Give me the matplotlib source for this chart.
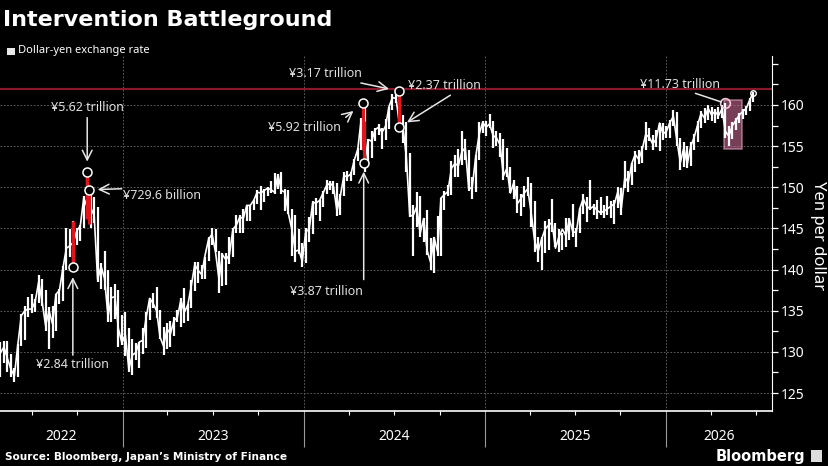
import numpy as np
import pandas as pd
import matplotlib
matplotlib.use("Agg")
import matplotlib.pyplot as plt
import matplotlib.dates as mdates
from matplotlib.patches import Rectangle
from matplotlib.ticker import MultipleLocator, FixedLocator

plt.rcParams["font.family"] = ["Noto Sans", "DejaVu Sans"]

# weekly dollar-yen bars (week ending Friday)
high_2022 = [131.2, 131.3, 131.3, 129.8, 128.0, 130.9, 134.6, 135.6, 136.7, 137.0, 136.4, 139.4,
             138.9, 137.5, 135.5, 135.6, 137.0, 137.7, 140.4, 145.0, 144.9, 145.9, 145.0, 145.4,
             148.9, 151.9, 149.7, 148.8, 147.6, 140.8, 142.3, 139.9, 137.9, 138.2, 137.5, 134.5]
low_2022 = [127.0, 128.6, 127.5, 127.0, 126.4, 126.9, 130.7, 131.5, 134.3, 134.7, 134.8, 135.9,
            135.6, 132.5, 130.4, 131.7, 132.6, 135.8, 136.2, 140.0, 141.5, 140.3, 143.0, 143.5,
            145.0, 146.2, 145.1, 145.7, 138.5, 137.7, 137.5, 133.6, 133.6, 134.0, 130.6, 130.8]
close_2022 = [129.9, 130.6, 129.2, 127.9, 127.1, 130.9, 134.4, 135.0, 135.2, 135.2, 136.1, 138.5,
              136.1, 133.2, 135.0, 133.4, 137.0, 137.5, 140.2, 142.6, 142.9, 143.3, 144.7, 145.3,
              148.7, 147.6, 147.5, 146.6, 138.8, 140.4, 138.9, 134.3, 136.6, 136.7, 132.8, 131.1]

high_2023 = [134.8, 132.9, 131.6, 131.1, 131.2, 132.9, 134.8, 136.5, 137.1, 137.9, 135.1, 133.0, 133.5,
             133.8, 134.2, 135.1, 136.6, 137.8, 135.8, 138.7, 140.9, 140.9, 140.5, 141.5, 143.9, 145.1,
             144.9, 142.3, 142.0, 142.0, 143.9, 145.0, 146.6, 146.6, 147.4, 147.9, 147.9, 148.5, 149.7,
             150.2, 149.8, 150.0, 150.8, 151.7, 151.6, 151.9, 149.8, 149.7, 147.4, 146.6, 144.9, 143.2]
low_2023 = [129.5, 127.5, 127.2, 129.0, 128.1, 129.8, 130.5, 133.9, 135.3, 134.1, 131.6, 129.6, 130.4,
            130.6, 131.9, 133.6, 133.0, 133.5, 133.7, 135.3, 137.4, 138.4, 138.8, 138.9, 141.1, 143.0,
            142.1, 137.2, 138.0, 138.1, 140.7, 141.5, 144.5, 144.5, 144.5, 145.9, 145.9, 147.3, 148.0,
            147.3, 148.2, 149.0, 149.3, 149.2, 149.8, 149.2, 147.1, 146.7, 141.6, 140.9, 141.9, 140.3]
close_2023 = [132.1, 127.9, 129.6, 129.9, 131.2, 131.4, 134.2, 136.5, 135.9, 135.0, 131.8, 130.7, 132.8,
              132.2, 133.8, 134.2, 136.3, 134.8, 135.7, 138.0, 140.6, 139.9, 139.4, 141.8, 143.7, 144.3,
              142.1, 138.8, 141.8, 141.2, 141.8, 144.9, 145.4, 146.4, 146.2, 147.8, 147.8, 148.4, 149.4,
              149.3, 149.6, 149.9, 149.7, 149.4, 151.5, 149.6, 149.4, 146.8, 144.9, 142.2, 142.4, 141.0]

high_2024 = [145.0, 146.4, 148.3, 148.7, 148.5, 149.6, 150.9, 150.8, 150.8, 150.5, 149.2, 151.9, 152.0,
             151.9, 153.4, 154.8, 158.4, 160.2, 155.9, 156.8, 157.2, 157.7, 157.2, 158.3, 159.8, 161.3,
             161.95, 161.7, 158.8, 157.9, 154.2, 147.9, 149.4, 149.0, 146.3, 147.2, 143.8, 143.9, 146.5,
             148.7, 149.6, 150.3, 153.2, 153.9, 154.7, 156.8, 155.9, 154.5, 151.2, 153.9, 157.9, 158.1]
low_2024 = [140.8, 143.4, 144.3, 146.6, 145.9, 147.6, 149.2, 149.7, 149.2, 146.5, 146.6, 148.9, 150.8,
            150.8, 151.5, 153.2, 154.5, 151.9, 152.8, 153.6, 155.6, 156.4, 154.6, 155.7, 157.1, 159.4,
            160.2, 157.4, 155.4, 151.9, 146.4, 141.7, 145.2, 144.0, 143.4, 141.8, 139.9, 139.6, 141.6,
            141.7, 147.3, 148.9, 149.1, 151.3, 151.3, 152.7, 153.3, 149.5, 148.6, 149.4, 153.3, 156.6]
close_2024 = [144.6, 144.9, 148.1, 148.1, 148.4, 149.3, 150.2, 150.5, 150.1, 147.1, 149.0, 151.4, 151.3,
              151.6, 153.3, 154.6, 158.3, 153.0, 155.8, 155.6, 157.0, 157.3, 156.7, 157.4, 159.8, 160.9,
              160.8, 157.8, 157.4, 153.7, 146.5, 146.6, 147.6, 144.4, 146.2, 142.3, 140.9, 143.9, 142.2,
              148.7, 149.1, 149.5, 152.3, 152.9, 152.6, 154.3, 154.8, 149.8, 150.0, 153.7, 156.4, 157.9]

high_2025 = [158.1, 158.9, 158.1, 156.8, 156.6, 155.9, 154.8, 152.5, 150.9, 150.2, 149.2, 150.2, 151.2,
             150.5, 148.3, 144.0, 143.9, 145.9, 146.2, 148.6, 145.7, 144.9, 144.5, 146.3, 146.3, 148.0,
             145.0, 147.5, 149.2, 148.8, 150.9, 148.0, 148.5, 148.8, 147.8, 149.0, 148.3, 148.4, 150.0,
             149.9, 153.2, 152.0, 153.0, 154.4, 154.5, 155.0, 157.9, 157.2, 156.3, 156.9, 157.8, 157.8]
low_2025 = [156.2, 157.2, 154.8, 155.0, 153.7, 150.9, 151.2, 149.3, 148.6, 146.9, 146.5, 147.6, 149.0,
            145.2, 142.1, 140.9, 139.9, 142.0, 142.4, 144.6, 142.8, 142.1, 142.4, 142.8, 143.6, 144.0,
            142.7, 144.5, 146.7, 145.8, 147.3, 146.6, 146.2, 146.6, 146.3, 146.6, 146.3, 145.5, 147.5,
            146.6, 149.9, 149.4, 150.3, 151.8, 152.8, 153.0, 154.5, 155.6, 154.5, 154.9, 154.4, 155.8]
close_2025 = [157.3, 157.7, 156.3, 156.0, 155.2, 151.4, 152.3, 149.3, 150.6, 148.0, 148.6, 149.3, 149.8,
              146.9, 143.5, 142.2, 143.7, 144.9, 145.4, 145.7, 142.6, 144.0, 144.9, 144.1, 146.1, 144.6,
              144.5, 147.4, 148.6, 147.7, 147.4, 147.7, 147.2, 146.9, 147.1, 147.4, 147.7, 148.0, 149.5,
              147.5, 151.2, 150.6, 152.9, 154.0, 153.4, 154.6, 156.4, 156.1, 155.3, 155.8, 157.8, 156.5]

high_2026 = [157.5, 158.2, 159.4, 159.2, 156.0, 155.5, 155.0, 155.5, 156.5, 158.0, 159.3, 159.6, 160.0,
             159.8, 159.5, 159.8, 160.0, 160.3, 157.4, 157.9, 158.4, 159.0, 159.5, 159.9, 160.8, 161.6]
low_2026 = [156.0, 156.0, 157.5, 155.0, 152.1, 152.5, 152.3, 152.6, 154.5, 155.5, 157.2, 157.8, 158.2,
            158.0, 157.8, 158.3, 158.4, 156.0, 155.0, 155.9, 157.0, 157.8, 158.3, 158.8, 159.3, 160.4]
close_2026 = [156.8, 157.9, 158.6, 155.7, 153.0, 154.8, 152.8, 155.0, 156.1, 157.6, 159.0, 158.4, 159.6,
              158.8, 159.2, 158.7, 159.5, 156.8, 156.2, 157.5, 158.1, 158.8, 159.2, 159.6, 160.6, 161.5]

week_high = high_2022 + high_2023 + high_2024 + high_2025 + high_2026
week_low = low_2022 + low_2023 + low_2024 + low_2025 + low_2026
week_close = close_2022 + close_2023 + close_2024 + close_2025 + close_2026
weeks = pd.date_range("2022-04-29", periods=len(week_close), freq="W-FRI")

# interventions: day, level before, level after, marked level, amount
iv_dates = pd.to_datetime(["2022-09-22", "2022-10-21", "2022-10-24", "2024-04-29",
                           "2024-05-01", "2024-07-11", "2024-07-12"])
iv_from = [145.9, 151.9, 149.7, 160.2, 158.0, 161.7, 159.4]
iv_to = [140.3, 146.2, 145.5, 154.5, 153.0, 157.4, 157.3]
iv_mark = [140.3, 151.9, 149.7, 160.2, 153.0, 161.7, 157.3]
iv_labels = ["¥2.84 trillion", "¥5.62 trillion", "¥729.6 billion", "¥5.92 trillion",
             "¥3.87 trillion", "¥3.17 trillion", "¥2.37 trillion"]

iv26_date = pd.Timestamp("2026-05-01")
iv26_level = 160.2
iv26_label = "¥11.73 trillion"
box26_start, box26_end = pd.Timestamp("2026-04-28"), pd.Timestamp("2026-06-03")
box26_low, box26_high = 154.7, 160.6

record_high = 161.95
yticks = [125, 130, 135, 140, 145, 150, 155, 160, 165]

# layout of annotation text / arrows, offsets in pixels from the marked circle
text_off = [(0, -97), (0, 64), (73, -6), (-58, -24), (-37, -129), (-73, 17), (45, 42)]
arrow_tail = [(0, -88), (0, 54), (33, 1), (-17, -14), (0, -117), (-38, 8), (51, 32)]
arrow_gap = [10, 10, 9, 12, 9, 10, 9]

W, H = 829, 466
fig = plt.figure(figsize=(W / 100, H / 100), dpi=100, facecolor="black")
ax = fig.add_axes([0, 1 - 411 / H, 772 / W, (411 - 55.6) / H])
ax.set_facecolor("black")

x0, x1 = pd.Timestamp("2022-04-28"), pd.Timestamp("2026-08-03")
ax.set_xlim(x0, x1)
ax.set_ylim(122.82, 166.0)

grid_kw = dict(color="#6a6a6a", lw=0.6, ls=(0, (2, 2)), zorder=1)
for y in yticks[:-1]:
    ax.axhline(y, **grid_kw)
for yr in range(2023, 2027):
    ax.axvline(pd.Timestamp(f"{yr}-01-01"), **grid_kw)

ax.axhline(record_high, color="#861a2a", lw=1.6, zorder=2)

ax.add_patch(Rectangle((mdates.date2num(box26_start), box26_low),
                       mdates.date2num(box26_end) - mdates.date2num(box26_start),
                       box26_high - box26_low, facecolor="#d9739f", alpha=0.55,
                       edgecolor="#f2a9cb", lw=1.2, zorder=3))

ax.vlines(weeks, week_low, week_high, color="white", lw=1.6, zorder=4)
ax.plot(weeks, week_close, color="white", lw=1.2, zorder=4)

ax.vlines(iv_dates, iv_to, iv_from, color="#e3141c", lw=2.2, zorder=5)
ax.plot(iv_dates, iv_mark, "o", ms=6.5, mfc="black", mec="white", mew=1.1, zorder=6)
ax.plot([iv26_date], [iv26_level], "o", ms=7, mfc="none", mec="#f4c6da", mew=1.2, zorder=6)
ax.plot([weeks[-1]], [week_close[-1]], "o", ms=4, mfc="none", mec="white", mew=1.0, zorder=6)

txt_kw = dict(color="#e0e0e0", fontsize=9, ha="center", va="center", zorder=7)
for d, lvl, lab, to, ta, gap in zip(iv_dates, iv_mark, iv_labels, text_off, arrow_tail, arrow_gap):
    ax.annotate(lab, xy=(d, lvl), xytext=to, textcoords="offset pixels", **txt_kw)
    ax.annotate("", xy=(d, lvl), xytext=ta, textcoords="offset pixels",
                arrowprops=dict(arrowstyle="->,head_length=0.7,head_width=0.35", color="#e6e6e6",
                                lw=1.1, shrinkA=0, shrinkB=gap * 0.72), zorder=7)
ax.annotate(iv26_label, xy=(iv26_date, iv26_level), xytext=(-45, 19),
            textcoords="offset pixels", **txt_kw)
ax.annotate("", xy=(iv26_date, iv26_level), xytext=(-30, 10), textcoords="offset pixels",
            arrowprops=dict(arrowstyle="-", color="#e6e6e6", lw=1.1, shrinkA=0, shrinkB=3), zorder=7)

# axes styling
for s in ["left", "top"]:
    ax.spines[s].set_visible(False)
ax.spines["right"].set_color("white")
ax.spines["bottom"].set_color("white")
ax.spines["bottom"].set_linewidth(1.2)

ax.yaxis.tick_right()
ax.yaxis.set_major_locator(FixedLocator(yticks))
ax.set_yticklabels([str(v) for v in yticks[:-1]] + [""])
ax.yaxis.set_minor_locator(MultipleLocator(2.5))
ax.tick_params(axis="y", which="both", colors="white", labelcolor="white", labelsize=10,
               length=4, width=0.9, pad=2)

ax.xaxis.set_major_locator(mdates.YearLocator())
ax.xaxis.set_minor_locator(mdates.MonthLocator(bymonth=[4, 7, 10]))
ax.xaxis.set_major_formatter(plt.NullFormatter())
ax.tick_params(axis="x", which="major", colors="#9a9a9a", length=26, width=0.8)
ax.tick_params(axis="x", which="minor", colors="white", length=3, width=0.8)

bounds = [x0] + [pd.Timestamp(f"{yr}-01-01") for yr in range(2023, 2027)] + [x1]
for i, yr in enumerate(range(2022, 2027)):
    mid = bounds[i] + (bounds[i + 1] - bounds[i]) / 2
    ax.text(mid, -0.073, str(yr), transform=ax.get_xaxis_transform(), color="white",
            fontsize=10, ha="center", va="center")

fig.text(818 / W, 1 - 236 / H, "Yen per dollar", rotation=270, color="white",
         fontsize=12, ha="center", va="center")

fig.text(3 / W, 1 - 26 / H, "Intervention Battleground", color="white", fontsize=16,
         fontweight="bold", family="DejaVu Sans", ha="left", va="baseline")
fig.patches.append(Rectangle((7 / W, 1 - 55 / H), 8 / W, 7 / H, transform=fig.transFigure,
                             facecolor="#e8e8e8", edgecolor="none"))
fig.text(18 / W, 1 - 51 / H, "Dollar-yen exchange rate", color="white", fontsize=8,
         ha="left", va="center")

fig.text(5 / W, 1 - 457 / H, "Source: Bloomberg, Japan\u2019s Ministry of Finance", color="white",
         fontsize=7.6, fontweight="bold", family="DejaVu Sans", ha="left", va="center")
fig.text(805 / W, 1 - 456 / H, "Bloomberg", color="white", fontsize=10.5, fontweight="bold",
         family="DejaVu Sans", ha="right", va="center")
fig.patches.append(Rectangle((811 / W, 1 - 462 / H), 11 / W, 12 / H, transform=fig.transFigure,
                             facecolor="#dddddd", edgecolor="none"))

fig.savefig("out.png", dpi=100, facecolor="black")
